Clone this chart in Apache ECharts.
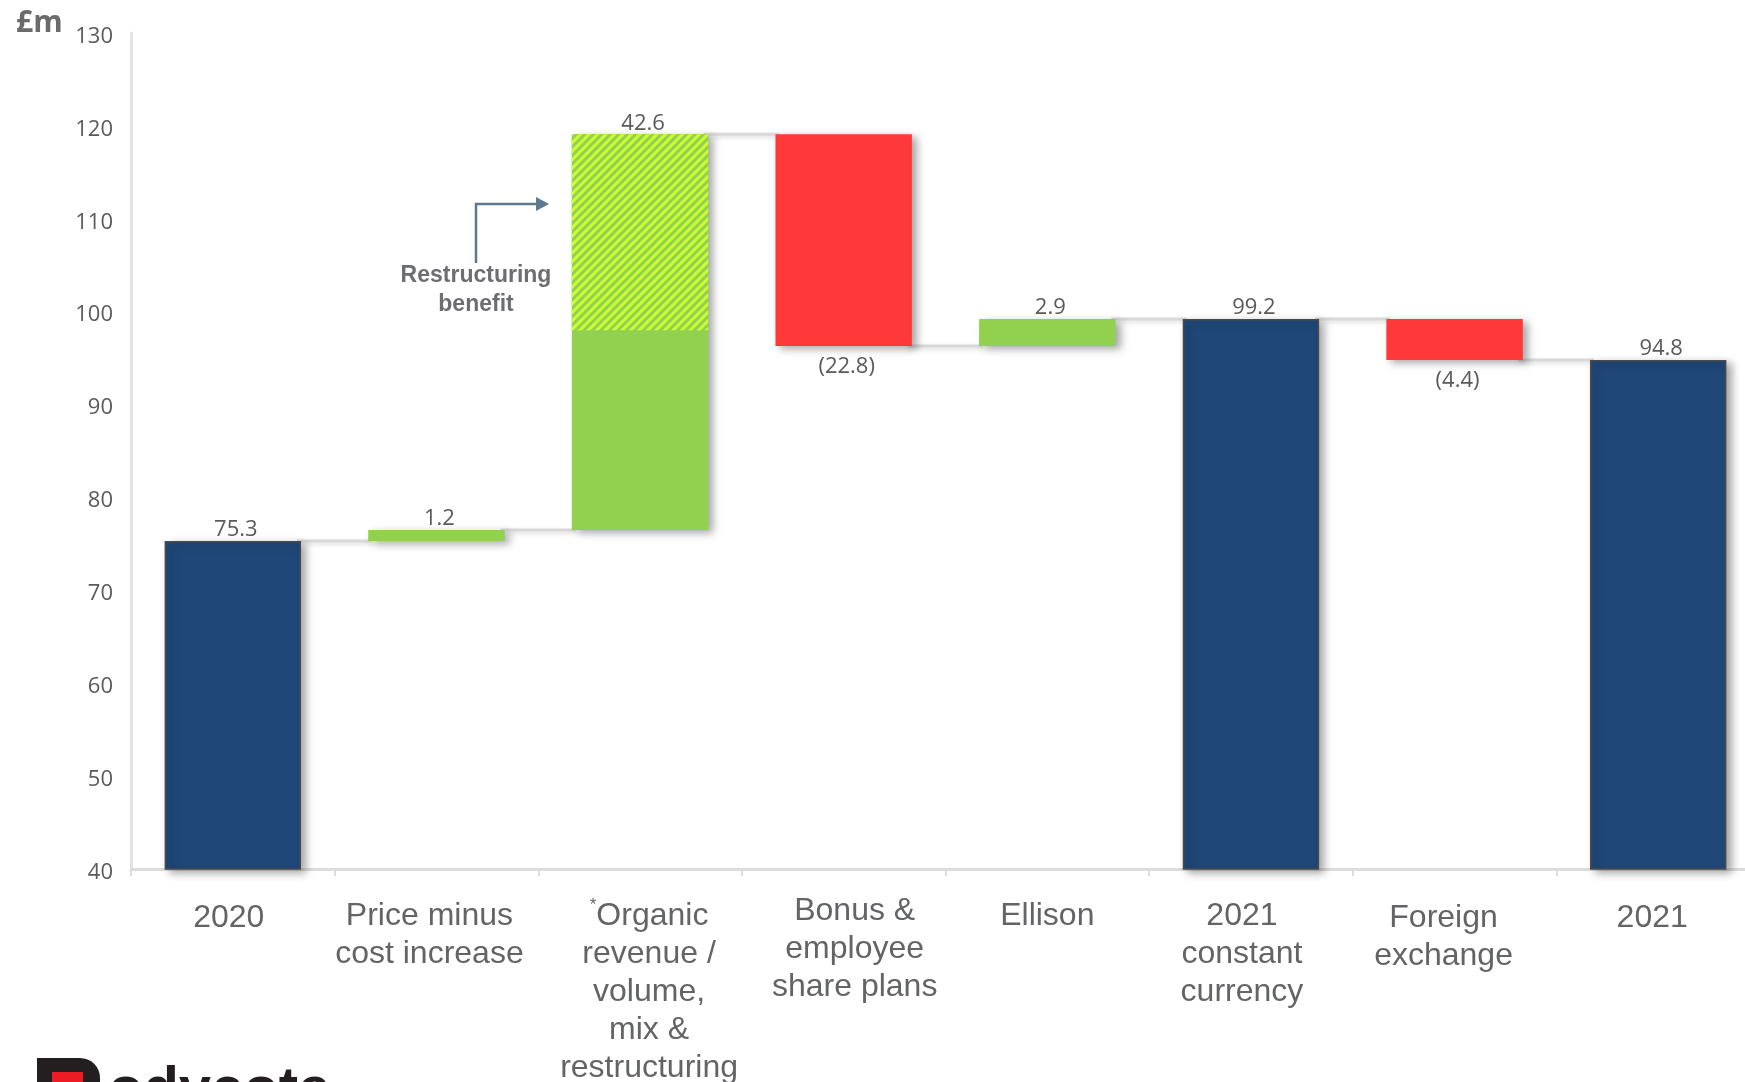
<!DOCTYPE html>
<html><head><meta charset="utf-8">
<script src="https://cdn.jsdelivr.net/npm/echarts@6/dist/echarts.min.js"></script>
<style>html,body{margin:0;padding:0;background:#fff;overflow:hidden}#c{width:1760px;height:1082px}</style>
</head><body><div id="c"></div>
<script>
// ---- data ----
const categories = ['2020', 'Price minus\ncost increase', '*Organic\nrevenue /\nvolume,\nmix &\nrestructuring', 'Bonus &\nemployee\nshare plans', 'Ellison', '2021\nconstant\ncurrency', 'Foreign\nexchange', '2021'];
const totals = [75.3, null, null, null, null, 99.2, null, 94.8];
const changes = [null, 1.2, 42.6, -22.8, 2.9, null, -4.4, null];
const restructuring = [null, null, 21.1, null, null, null, null, null];
const yMin = 40, yMax = 130, yStep = 10;
const unitLabel = '£m';
const annotationText = 'Restructuring\nbenefit';

// ---- label placement style (text box offsets as in the slide, px) ----
const labelShiftX = [-4, -7, 9, 11, 0, -9, -11, -6];
const labelShiftY = [2, 0, 0, -5, 0, 0, 2, 2];

// ---- derived series for the waterfall ----
const base = [], totalBar = [], inc = [], dec = [], hatchBase = [], hatch = [], levels = [];
let level = 0;
for (let i = 0; i < categories.length; i++) {
  hatchBase.push('-'); hatch.push('-');
  if (totals[i] != null) {
    level = totals[i];
    base.push(0); totalBar.push(totals[i]); inc.push('-'); dec.push('-');
  } else {
    const c = changes[i], r = restructuring[i] || 0;
    if (c >= 0) {
      base.push(+level.toFixed(2)); inc.push(c); dec.push('-'); totalBar.push('-');
      level += c;
      if (r) { hatchBase[i] = +(level - r).toFixed(2); hatch[i] = r; }
    } else {
      level += c;
      base.push(+level.toFixed(2)); dec.push(-c); inc.push('-'); totalBar.push('-');
    }
  }
  levels.push(+level.toFixed(2));
}
const connectors = [];
for (let i = 0; i < categories.length - 1; i++) connectors.push([i, levels[i]]);

const axisData = categories.map((c, i) => {
  const dx = labelShiftX[i], dy = labelShiftY[i];
  const pad = [5 + dy, Math.max(0, -2 * dx), 0, Math.max(0, 2 * dx)];
  return { value: c, textStyle: { padding: pad } };
});

const BAR_RATIO = 0.67;
const labelFont = { color: '#5a5a5a', fontSize: 22, fontFamily: 'Open Sans', offset: [3, 0] };
const shadow = { shadowBlur: 8, shadowOffsetX: 5, shadowOffsetY: 3, shadowColor: 'rgba(0,0,0,0.35)' };

const chart = echarts.init(document.getElementById('c'), null, { renderer: 'canvas' });
chart.setOption({
  animation: false,
  backgroundColor: '#ffffff',
  grid: { left: 131, right: 0, top: 33, bottom: 213, containLabel: false, outerBoundsMode: 'none' },
  xAxis: {
    type: 'category',
    data: axisData,
    axisLine: { show: true, lineStyle: { color: '#dcdcdc', width: 3 } },
    axisTick: { show: true, length: 7, lineStyle: { color: '#dcdcdc', width: 2 } },
    axisLabel: {
      interval: 0, margin: 23, color: '#636466', fontSize: 32, lineHeight: 38,
      fontFamily: 'Liberation Sans',
      formatter: v => v.replace('*', '{sup|*}'),
      rich: { sup: { fontSize: 17, verticalAlign: 'top', color: '#636466', fontFamily: 'Liberation Sans', lineHeight: 38, padding: [0, 0, 14, 0] } }
    },
    splitLine: { show: false }
  },
  yAxis: {
    type: 'value', min: yMin, max: yMax, interval: yStep,
    axisLine: { show: true, lineStyle: { color: '#e3e3e3', width: 3 } },
    axisTick: { show: false },
    splitLine: { show: false },
    axisLabel: { margin: 18, color: '#5a5a5a', fontSize: 22, fontFamily: 'Open Sans', verticalAlign: 'top', lineHeight: 7 }
  },
  series: [
    {
      type: 'custom', coordinateSystem: 'cartesian2d', z: 1, silent: true,
      data: connectors,
      renderItem: (params, api) => {
        const i = api.value(0), v = api.value(1);
        const p1 = api.coord([i, v]), p2 = api.coord([i + 1, v]);
        const hw = api.size([1, 0])[0] * BAR_RATIO / 2;
        return { type: 'line', shape: { x1: p1[0] + hw - 4, y1: p1[1], x2: p2[0] - hw + 4, y2: p1[1] },
          style: { stroke: '#d9d9d9', lineWidth: 3, shadowBlur: 4, shadowOffsetY: 2, shadowColor: 'rgba(0,0,0,0.15)' } };
      }
    },
    { name: 'base', type: 'bar', stack: 'wf', data: base, barWidth: (BAR_RATIO * 100) + '%', barGap: '-100%', z: 2,
      itemStyle: { color: 'transparent' }, silent: true },
    { name: 'total', type: 'bar', stack: 'wf', data: totalBar, z: 3,
      itemStyle: Object.assign({ color: '#1f4778', borderColor: '#4a4a4a', borderWidth: 1.5 }, shadow),
      label: Object.assign({ show: true, position: 'top', distance: 0, formatter: p => totals[p.dataIndex].toFixed(1) }, labelFont) },
    { name: 'inc', type: 'bar', stack: 'wf', data: inc, z: 3,
      itemStyle: Object.assign({ color: '#92d050' }, shadow),
      label: Object.assign({ show: true, position: 'top', distance: 0,
        formatter: p => changes[p.dataIndex].toFixed(1) }, labelFont) },
    { name: 'dec', type: 'bar', stack: 'wf', data: dec, z: 3,
      itemStyle: Object.assign({ color: '#ff383a' }, shadow),
      label: Object.assign({ show: true, position: 'bottom', distance: 10,
        formatter: p => '(' + Math.abs(changes[p.dataIndex]).toFixed(1) + ')' }, labelFont) },
    { name: 'hatchBase', type: 'bar', stack: 'hatch', data: hatchBase, barWidth: (BAR_RATIO * 100) + '%', barGap: '-100%', z: 4,
      itemStyle: { color: 'transparent' }, silent: true },
    { name: 'restructuring', type: 'bar', stack: 'hatch', data: hatch, barWidth: (BAR_RATIO * 100) + '%', barGap: '-100%', z: 4,
      itemStyle: { color: '#92d050',
        decal: { symbol: 'rect', symbolSize: 1, dashArrayX: [1, 0], dashArrayY: [3, 3], rotation: -Math.PI / 4, color: '#ccff33' } } }
  ],
  graphic: [
    { type: 'text', left: 16, top: 8, style: { text: unitLabel, fill: '#6b6b6b', font: 'bold 30px "Open Sans"' } },
    { type: 'text', x: 476, y: 261, style: { text: annotationText, fill: '#6d6e71', font: 'bold 23px "Liberation Sans"', align: 'center', verticalAlign: 'top', lineHeight: 29 } },
    { type: 'polyline', shape: { points: [[476, 263], [476, 204], [538, 204]] }, style: { stroke: '#5b7a90', lineWidth: 2.5, fill: null } },
    { type: 'polygon', shape: { points: [[536, 197], [549, 204], [536, 211]] }, style: { fill: '#5b7a90' } },
    { type: 'rect', shape: { x: 37, y: 1058, width: 63, height: 40, r: [0, 20, 0, 0] }, style: { fill: '#231f20' } },
    { type: 'rect', shape: { x: 52, y: 1072, width: 31, height: 20 }, style: { fill: '#ed1c24' } },
    { type: 'text', x: 108, y: 1062, style: { text: 'odycote', fill: '#231f20', font: 'bold 58px "Liberation Sans"', verticalAlign: 'top' } }
  ]
});
</script>
</body></html>
